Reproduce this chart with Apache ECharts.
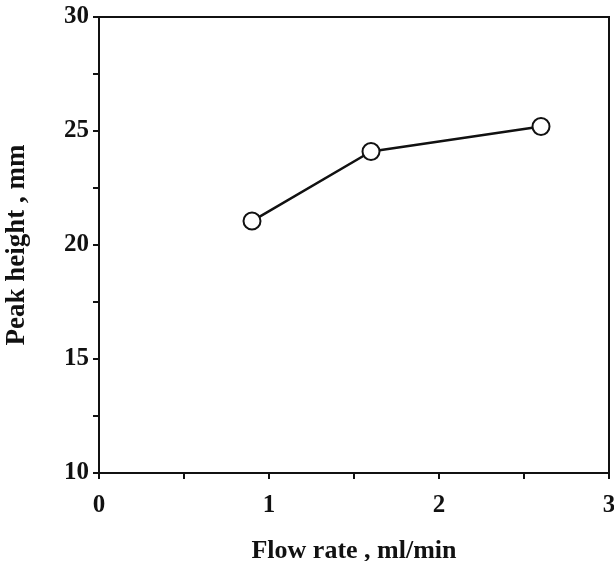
<!DOCTYPE html>
<html>
<head>
<meta charset="utf-8">
<script src="https://cdn.jsdelivr.net/npm/echarts@6/dist/echarts.min.js"></script>
<style>
    html, body { margin: 0; padding: 0; background: #fff; }
    #chart { width: 614px; height: 561px; }
</style>
</head>
<body>
<div id="chart"></div>
<script>
var flowRate = [0.9, 1.6, 2.6];
var peakHeight = [21.05, 24.1, 25.2];
var xTickLabels = ['0', '1', '2', '3'];
var yTickLabels = ['10', '15', '20', '25', '30'];

var fontFamily = '"Liberation Serif", "DejaVu Serif", serif';

var chart = echarts.init(document.getElementById('chart'));

function pairs() {
    var out = [];
    for (var i = 0; i < flowRate.length; i++) {
        out.push([flowRate[i], peakHeight[i]]);
    }
    return out;
}

var option = {
    backgroundColor: '#fff',
    animation: false,
    grid: {
        left: 99,
        right: 5,
        top: 17,
        bottom: 88,
        outerBoundsMode: 'none',
        containLabel: false,
        show: true,
        borderColor: '#111',
        borderWidth: 2
    },
    xAxis: {
        type: 'value',
        min: 0,
        max: 3,
        interval: 0.5,
        name: 'Flow rate , ml/min',
        nameLocation: 'middle',
        nameGap: 65,
        nameTextStyle: { fontFamily: fontFamily, fontWeight: 'bold', fontSize: 26, color: '#111' },
        axisLine: { lineStyle: { color: '#111', width: 2 } },
        axisTick: { inside: false, length: 6, lineStyle: { color: '#111', width: 2 } },
        splitLine: { show: false },
        axisLabel: {
            margin: 20,
            fontFamily: fontFamily,
            fontWeight: 'bold',
            fontSize: 25,
            color: '#111',
            formatter: function (v) {
                return xTickLabels.indexOf(String(v)) >= 0 ? String(v) : '';
            }
        }
    },
    yAxis: {
        type: 'value',
        min: 10,
        max: 30,
        interval: 2.5,
        name: 'Peak height , mm',
        nameLocation: 'middle',
        nameGap: 68,
        nameTextStyle: { fontFamily: fontFamily, fontWeight: 'bold', fontSize: 27, color: '#111' },
        axisLine: { show: true, lineStyle: { color: '#111', width: 2 } },
        axisTick: { show: true, inside: false, length: 6, lineStyle: { color: '#111', width: 2 } },
        splitLine: { show: false },
        axisLabel: {
            margin: 10,
            fontFamily: fontFamily,
            fontWeight: 'bold',
            fontSize: 25,
            color: '#111',
            formatter: function (v) {
                return yTickLabels.indexOf(String(v)) >= 0 ? String(v) : '';
            }
        }
    },
    series: [{
        type: 'line',
        data: pairs(),
        symbol: 'circle',
        symbolSize: 17,
        lineStyle: { color: '#111', width: 2.5 },
        itemStyle: { color: '#fff', borderColor: '#111', borderWidth: 2 }
    }]
};

chart.setOption(option);
</script>
</body>
</html>
